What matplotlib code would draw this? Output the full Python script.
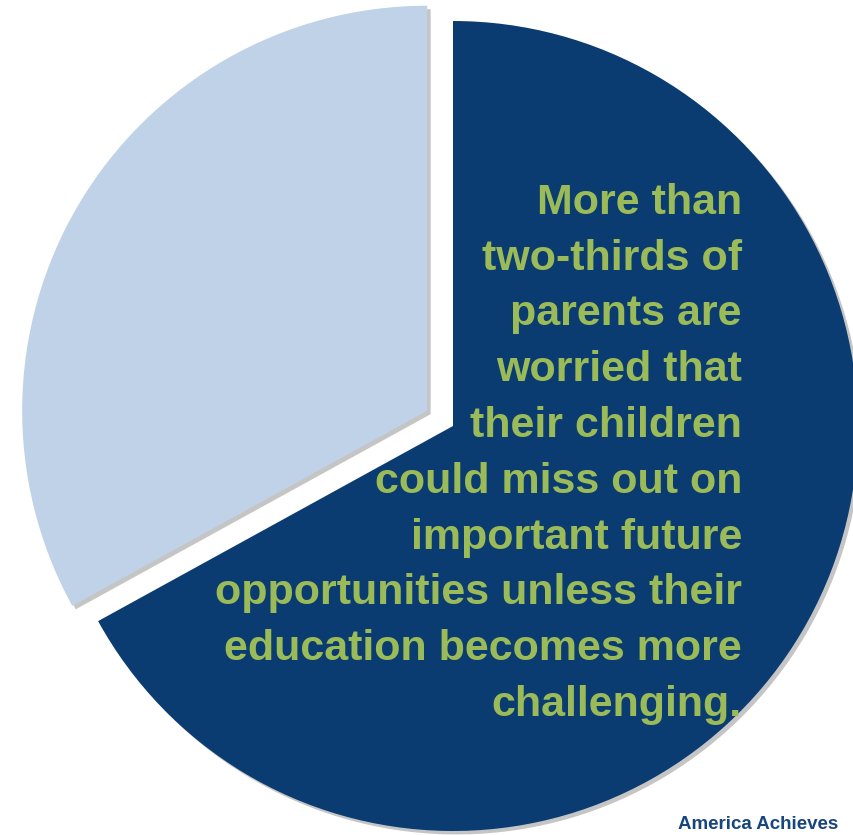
import matplotlib
matplotlib.use("Agg")
import matplotlib.pyplot as plt
import matplotlib.patheffects as pe

# Data
labels = ["Worried", "Not worried"]
shares = [67, 33]
colors = ["#0B3C71", "#BFD2E7"]
message = ("More than\ntwo-thirds of\nparents are\nworried that\ntheir children\n"
           "could miss out on\nimportant future\nopportunities unless their\n"
           "education becomes more\nchallenging.")
source = "America Achieves"

W, H = 854, 835
fig = plt.figure(figsize=(W / 100, H / 100), dpi=100)
ax = fig.add_axes([0, 0, 1, 1])

wedges, _ = ax.pie(shares, colors=colors, startangle=90, counterclock=False,
                   center=(453, H - 426), radius=405, explode=[0, 30],
                   frame=True)
for w in wedges:
    w.set_path_effects([pe.SimplePatchShadow(offset=(2.5, -2.5), shadow_rgbFace="#7f7f7f", alpha=0.45),
                        pe.Normal()])
ax.set_xlim(0, W)
ax.set_ylim(0, H)
ax.set_aspect("equal")
ax.axis("off")

ax.text(742, H - 716, message, ha="right", va="baseline", multialignment="right",
        fontsize=31, fontweight="bold", color="#9BBB59", family="Liberation Sans",
        linespacing=1.51)
ax.text(838, H - 829, source, ha="right", va="baseline", fontsize=13.5,
        fontweight="bold", color="#17467F", family="Liberation Sans")

fig.savefig("out.png", dpi=100)
